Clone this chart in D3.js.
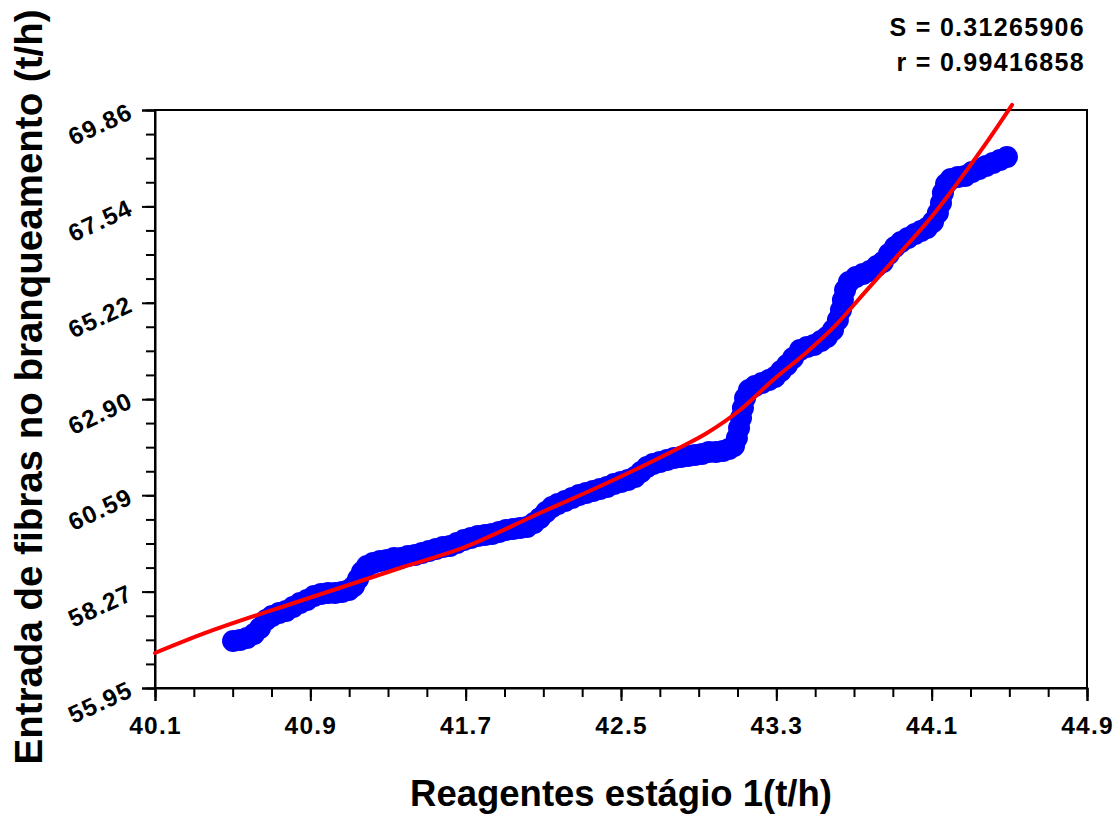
<!DOCTYPE html>
<html>
<head>
<meta charset="utf-8">
<script src="https://cdn.jsdelivr.net/npm/d3@7"></script>
<style>
  body { margin: 0; background: #fff; }
  svg text { font-family: "Liberation Sans", Arial, Helvetica, sans-serif; font-weight: bold; fill: #000; }
</style>
</head>
<body>
<svg id="chart" width="1115" height="816"></svg>
<script>
// data
const xTicks = [40.1, 40.9, 41.7, 42.5, 43.3, 44.1, 44.9];
const yTicks = [55.95, 58.27, 60.59, 62.90, 65.22, 67.54, 69.86];
const yTickLabels = ["55.95", "58.27", "60.59", "62.90", "65.22", "67.54", "69.86"];

// measured points (reagentes, entrada)
const pointsX = [40.502, 40.538, 40.574, 40.610, 40.641, 40.672, 40.703, 40.739, 40.775, 40.811,
  40.847, 40.883, 40.919, 40.955, 40.991, 41.027, 41.063, 41.099, 41.125, 41.146,
  41.166, 41.192, 41.223, 41.259, 41.295, 41.331, 41.367, 41.403, 41.439, 41.475,
  41.511, 41.547, 41.583, 41.619, 41.655, 41.691, 41.727, 41.763, 41.800, 41.836,
  41.872, 41.908, 41.944, 41.980, 42.016, 42.052, 42.083, 42.114, 42.145, 42.175,
  42.212, 42.248, 42.284, 42.320, 42.356, 42.392, 42.428, 42.464, 42.500, 42.536,
  42.572, 42.603, 42.634, 42.665, 42.701, 42.737, 42.773, 42.809, 42.845, 42.881,
  42.917, 42.953, 42.989, 43.025, 43.056, 43.082, 43.097, 43.108, 43.118, 43.128,
  43.139, 43.159, 43.190, 43.226, 43.262, 43.293, 43.324, 43.355, 43.386, 43.422,
  43.458, 43.494, 43.530, 43.561, 43.592, 43.617, 43.633, 43.643, 43.654, 43.674,
  43.710, 43.746, 43.782, 43.818, 43.849, 43.880, 43.911, 43.942, 43.978, 44.014,
  44.045, 44.076, 44.107, 44.132, 44.148, 44.158, 44.174, 44.199, 44.235, 44.272,
  44.308, 44.344, 44.380, 44.416, 44.452, 44.488];
const pointsY = [57.081, 57.105, 57.154, 57.250, 57.394, 57.587, 57.683, 57.755, 57.803, 57.900,
  57.996, 58.068, 58.164, 58.213, 58.237, 58.237, 58.261, 58.309, 58.405, 58.574,
  58.742, 58.887, 58.959, 59.007, 59.031, 59.079, 59.079, 59.127, 59.151, 59.199,
  59.248, 59.296, 59.344, 59.368, 59.440, 59.512, 59.561, 59.609, 59.633, 59.657,
  59.705, 59.753, 59.777, 59.801, 59.825, 59.922, 60.042, 60.186, 60.307, 60.379,
  60.451, 60.523, 60.596, 60.644, 60.692, 60.740, 60.788, 60.860, 60.908, 60.957,
  61.029, 61.149, 61.269, 61.342, 61.390, 61.438, 61.486, 61.510, 61.534, 61.558,
  61.582, 61.631, 61.631, 61.655, 61.703, 61.775, 61.968, 62.208, 62.449, 62.690,
  62.930, 63.123, 63.219, 63.291, 63.364, 63.436, 63.580, 63.725, 63.893, 64.086,
  64.158, 64.206, 64.302, 64.399, 64.567, 64.808, 65.048, 65.289, 65.530, 65.722,
  65.843, 65.915, 65.987, 66.108, 66.204, 66.396, 66.565, 66.685, 66.782, 66.878,
  66.950, 67.022, 67.167, 67.383, 67.624, 67.865, 68.081, 68.202, 68.250, 68.274,
  68.370, 68.442, 68.515, 68.587, 68.659, 68.731];

// fitted curve
const fitX = [40.1, 40.332, 40.847, 41.362, 41.671, 42.083, 42.428, 42.768, 42.943, 43.113,
  43.283, 43.458, 43.592, 43.767, 43.937, 44.107, 44.179, 44.297, 44.385, 44.514];
const fitY = [56.792, 57.226, 58.044, 58.838, 59.296, 60.162, 60.884, 61.655, 62.088, 62.641,
  63.364, 64.038, 64.615, 65.530, 66.420, 67.335, 67.768, 68.515, 69.092, 69.983];

const statLines = ["S = 0.31265906", "r = 0.99416858"];

const svg = d3.select("#chart");
const marginLeft = 155, marginTop = 110, plotW = 932, plotH = 578;

const x = d3.scaleLinear().domain([40.1, 44.9]).range([0, plotW]);
const y = d3.scaleLinear().domain([55.95, 69.86]).range([plotH, 0]);

const g = svg.append("g").attr("transform", `translate(${marginLeft},${marginTop})`);

// frame
g.append("rect")
  .attr("width", plotW).attr("height", plotH)
  .attr("fill", "none").attr("stroke", "#000").attr("stroke-width", 2);

// minor ticks
const xMinor = d3.range(40.1, 44.91, 0.2);
const yMinor = d3.range(0, 25).map(i => 55.95 + i * (69.86 - 55.95) / 24);

g.append("g")
  .attr("transform", `translate(0,${plotH})`)
  .call(d3.axisBottom(x).tickValues(xMinor).tickSize(9).tickFormat(""))
  .call(a => a.select(".domain").remove())
  .selectAll("line").attr("stroke-width", 2);

g.append("g")
  .call(d3.axisLeft(y).tickValues(yMinor).tickSize(9).tickFormat(""))
  .call(a => a.select(".domain").remove())
  .selectAll("line").attr("stroke-width", 2);

// major ticks + labels
const xAxis = g.append("g")
  .attr("transform", `translate(0,${plotH})`)
  .call(d3.axisBottom(x).tickValues(xTicks).tickSize(13).tickPadding(16).tickFormat(d3.format(".1f")));
xAxis.select(".domain").attr("stroke-width", 2);
xAxis.selectAll("line").attr("stroke-width", 2);
xAxis.selectAll("text")
  .style("font-size", "24.5px")
  .style("letter-spacing", "1.2px")
  .attr("font-family", null);

const yAxis = g.append("g")
  .call(d3.axisLeft(y).tickValues(yTicks).tickSize(13).tickFormat((d, i) => yTickLabels[i]));
yAxis.select(".domain").attr("stroke-width", 2);
yAxis.selectAll("line").attr("stroke-width", 2);
yAxis.selectAll("text")
  .attr("x", -24)
  .attr("dy", "0.32em")
  .attr("transform", "rotate(-25,-24,0)")
  .style("font-size", "24.5px")
  .style("letter-spacing", "1.2px")
  .attr("font-family", null);

// scatter
const pts = pointsX.map((v, i) => [v, pointsY[i]]);
g.append("g")
  .selectAll("circle")
  .data(pts)
  .join("circle")
  .attr("cx", d => x(d[0]))
  .attr("cy", d => y(d[1]))
  .attr("r", 11)
  .attr("fill", "#0000ff");

// fitted curve
const fit = fitX.map((v, i) => [v, fitY[i]]);
g.append("path")
  .datum(fit)
  .attr("fill", "none")
  .attr("stroke", "#ff0000")
  .attr("stroke-width", 4)
  .attr("stroke-linecap", "round")
  .attr("d", d3.line().x(d => x(d[0])).y(d => y(d[1])).curve(d3.curveMonotoneX));

// stats, top right
svg.append("g")
  .selectAll("text")
  .data(statLines)
  .join("text")
  .attr("x", 1085)
  .attr("y", (d, i) => 36 + i * 35)
  .attr("text-anchor", "end")
  .style("font-size", "25px")
  .style("letter-spacing", "1.3px")
  .text(d => d);

// axis titles
svg.append("text")
  .attr("x", 621)
  .attr("y", 806)
  .attr("text-anchor", "middle")
  .style("font-size", "36.5px")
  .text("Reagentes estágio 1(t/h)");

svg.append("text")
  .attr("transform", `translate(42,${387}) rotate(-90)`)
  .attr("text-anchor", "middle")
  .style("font-size", "38.5px")
  .text("Entrada de fibras no branqueamento (t/h)");
</script>
</body>
</html>
